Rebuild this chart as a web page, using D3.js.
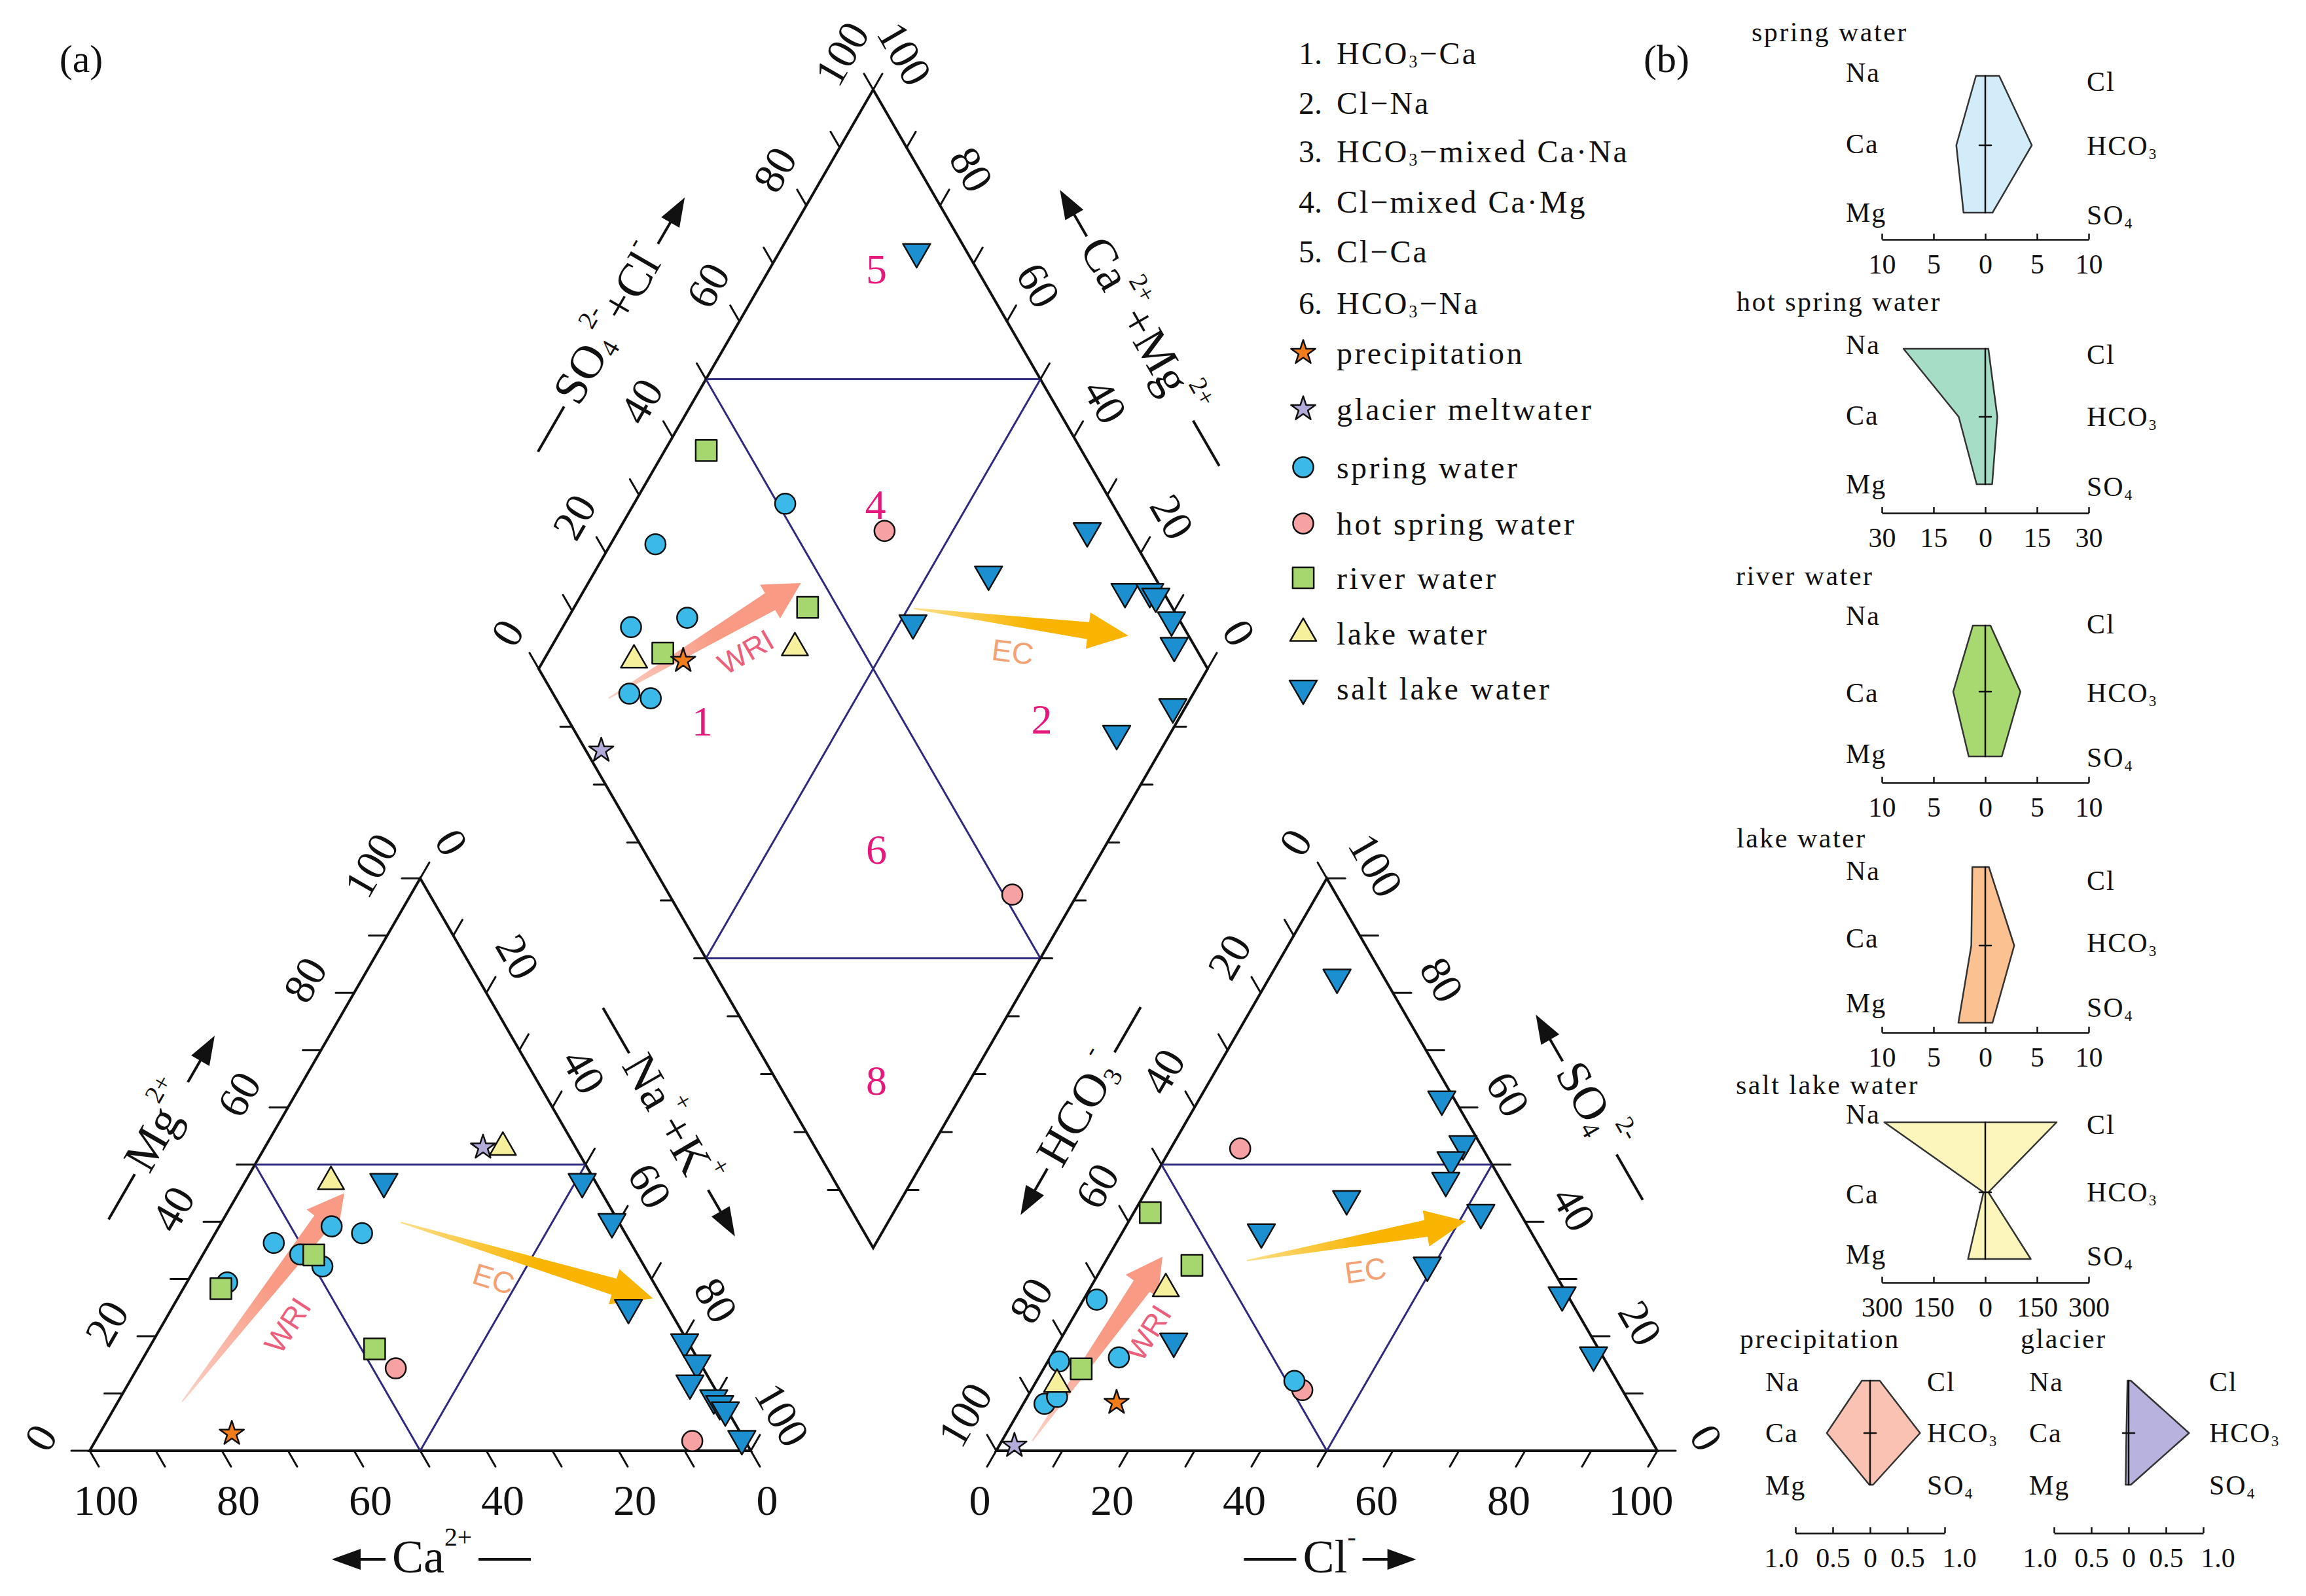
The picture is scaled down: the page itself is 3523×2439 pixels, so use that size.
<!DOCTYPE html>
<html>
<head>
<meta charset="utf-8">
<script src="https://cdn.jsdelivr.net/npm/d3@7"></script>
<style>
body { margin: 0; background: #fff; }
svg { display: block; }
text { font-family: "Liberation Serif", "Times New Roman", serif; fill: #111; }
</style>
</head>
<body>
<svg id="chart" width="3523" height="2439"></svg>
<script>
// ---- data ----
// cation triangle: [type, Ca %, Mg %]
var cationPts = [
    ['precip', 77, 3], ['glacier', 14, 53],
    ['lake', 11, 53], ['lake', 40, 47],
    ['salt', 32, 47], ['salt', 2, 47], ['salt', 1, 40], ['salt', 6, 25], ['salt', 0.5, 19],
    ['salt', 0.5, 15.3], ['salt', 3.3, 11.8], ['salt', 1, 9.2], ['salt', 0.6, 8.2], ['salt', 0.3, 7.1], ['salt', 0.3, 2.1],
    ['hot', 8, 1.7], ['hot', 46.5, 14.4],
    ['spring', 64.5, 29.4], ['spring', 54, 36.3], ['spring', 51, 34.3], ['spring', 48.7, 32.2], ['spring', 43.8, 39.2], ['spring', 39.8, 38],
    ['river', 48, 17.8], ['river', 66, 28.3], ['river', 49, 34.2]
];
// anion triangle: [type, Cl %, SO4 %]
var anionPts = [
    ['glacier', 2.3, 0.9], ['precip', 14, 8.4],
    ['spring', 3.2, 8.2], ['spring', 4.5, 9.4], ['spring', 1.7, 15.6], ['spring', 10.4, 16.3], ['spring', 2, 26.4], ['spring', 39, 12.2],
    ['hot', 41, 10.6], ['hot', 10.5, 52.8],
    ['lake', 3.4, 11.6], ['lake', 11.5, 28.3],
    ['river', 5.7, 14.3], ['river', 13.4, 32.4], ['river', 2.5, 41.6],
    ['salt', 17.3, 19.1], ['salt', 21, 38.2], ['salt', 31, 44], ['salt', 36.7, 61.4], ['salt', 43.8, 53.6], ['salt', 43.4, 50.8],
    ['salt', 44.4, 47.2], ['salt', 52.5, 41.6], ['salt', 49, 32.4], ['salt', 72, 27.2], ['salt', 82, 16.7], ['salt', 10.2, 82.7]
];
// diamond: [type, SO4+Cl %, Ca+Mg %]
var diamondPts = [
    ['salt', 92.5, 79.5], ['salt', 93.9, 29.9], ['salt', 75.4, 40.9], ['salt', 94.3, 19], ['salt', 98, 15.3], ['salt', 98.5, 14],
    ['salt', 98.8, 9.6], ['salt', 97, 7], ['salt', 91.5, 1.9], ['salt', 80.8, 8], ['salt', 59.9, 48],
    ['river', 43.9, 93.8], ['river', 45.5, 65.1], ['river', 19.9, 82.8],
    ['spring', 51.1, 77.4], ['spring', 28.2, 93.3], ['spring', 26.6, 82.2], ['spring', 17.4, 89.8], ['spring', 11.4, 84.3], ['spring', 14.2, 80.7],
    ['hot', 63.6, 60.2], ['hot', 51.3, 9.7],
    ['lake', 15, 86.5], ['lake', 40.1, 63.5],
    ['precip', 22.3, 79.1], ['glacier', 2.3, 83.6]
];
// trend arrows [label, start, tip]
var cationArrows = [['WRI', [81.7, 8.6], [39, 45]], ['EC', [33, 39.9], [1.5, 26.6]]];
var anionArrows = [['WRI', [4.6, 1.7], [8.2, 33.9]], ['EC', [21.3, 33.2], [51, 40.1]]];
var diamondArrows = [['WRI', [7.9, 87], [46.6, 68.2]], ['EC', [61.3, 49.1], [91, 14.7]]];
var regionLabels = [['5', 85, 84], ['4', 64.5, 63.8], ['1', 19.9, 71], ['2', 70.8, 20.4], ['6', 34.9, 33.9], ['8', 14.95, 13.95]];

// Stiff diagrams (meq/L)
var stiffNames = ['spring water', 'hot spring water', 'river water', 'lake water', 'salt lake water', 'precipitation', 'glacier'];
var stiffNa = [0.9, 23.7, 1.2, 1.25, 293, 0.11, 0.015];
var stiffCa = [2.8, 7.7, 3.1, 1.35, 5, 0.58, 0.03];
var stiffMg = [2.1, 2.5, 1.6, 2.6, 50, 0.01, 0.04];
var stiffCl = [1.35, 0.9, 0.5, 0.35, 207, 0.13, 0.03];
var stiffHCO3 = [4.5, 3.5, 3.4, 2.8, 9, 0.67, 0.81];
var stiffSO4 = [0.7, 2.0, 1.6, 0.7, 132, 0.04, 0.03];
var stiffMax = [10, 30, 10, 10, 300, 1, 1];

var typeNames = [
    ['HCO', {sub: '3'}, '−Ca'], ['Cl−Na'], ['HCO', {sub: '3'}, '−mixed Ca·Na'],
    ['Cl−mixed Ca·Mg'], ['Cl−Ca'], ['HCO', {sub: '3'}, '−Na']
];
var seriesKeys = ['precip', 'glacier', 'spring', 'hot', 'river', 'lake', 'salt'];
var seriesNames = ['precipitation', 'glacier meltwater', 'spring water', 'hot spring water', 'river water', 'lake water', 'salt lake water'];

// ---- styles ----
var markStyle = {
    spring: {fill: '#3bb9e9', sym: d3.symbolCircle, size: 760},
    hot: {fill: '#f6a1a2', sym: d3.symbolCircle, size: 760},
    river: {fill: '#a6d76e', sym: d3.symbolSquare, size: 1040},
    lake: {fill: '#f6ef9c', sym: d3.symbolTriangle, size: 700},
    salt: {fill: '#1b8fd0', sym: d3.symbolTriangle, size: 760, rot: 180},
    precip: {fill: '#f07c1c', sym: d3.symbolStar, size: 430},
    glacier: {fill: '#b3abd9', sym: d3.symbolStar, size: 430}
};
var stiffFill = ['#d3ecfa', '#a6ddc6', '#a8d870', '#fbc190', '#fdf6bc', '#fac2b2', '#b8b3de'];
var drawOrder = ['hot', 'spring', 'river', 'lake', 'salt', 'precip', 'glacier'];
var purple = '#2e2a7e';

var svg = d3.select('#chart');
svg.append('rect').attr('width', 3523).attr('height', 2439).attr('fill', '#fff');
var defs = svg.append('defs');

// ---- geometry ----
var side = 1010, triH = side * Math.sqrt(3) / 2, baseY = 2217;
var triY = d3.scaleLinear().domain([0, 100]).range([baseY, baseY - triH]);
var catX = d3.scaleLinear().domain([0, 100]).range([137 + side, 137]);   // Ca + Mg/2
var anX = d3.scaleLinear().domain([0, 100]).range([1522, 1522 + side]);  // Cl + SO4/2
function catPos(ca, mg) { return [catX(ca + mg / 2), triY(mg)]; }
function anPos(cl, so4) { return [anX(cl + so4 / 2), triY(so4)]; }
var dX = d3.scaleLinear().domain([-100, 100]).range([823, 1845]);
var dY = d3.scaleLinear().domain([0, 200]).range([1907, 137]);
function diaPos(a, c) { return [dX(a - c), dY(a + c)]; }

function seg(a, b, color, w) {
    svg.append('line')
        .attr('x1', a[0]).attr('y1', a[1]).attr('x2', b[0]).attr('y2', b[1])
        .attr('stroke', color).attr('stroke-width', w).attr('stroke-linecap', 'round');
}

function richText(t, parts, fs) {
    var cur = 0;
    parts.forEach(function(p) {
        var tgt = 0, txt = p, size = null;
        if (typeof p !== 'string') {
            if (p.sub) { tgt = fs * 0.28; txt = p.sub; }
            else { tgt = -fs * 0.42; txt = p.sup; }
            size = fs * 0.55;
        }
        var ts = t.append('tspan').attr('dy', tgt - cur).text(txt);
        if (size) ts.style('font-size', size + 'px');
        cur = tgt;
    });
}

function ticks(values, posFn, dir, len, labelFn, off, rot) {
    values.forEach(function(v) {
        var p = posFn(v);
        seg(p, [p[0] + dir[0] * len, p[1] + dir[1] * len], '#111', 3);
        if (labelFn && v % 20 === 0) {
            svg.append('text')
                .attr('transform', 'translate(' + (p[0] + off[0]) + ',' + (p[1] + off[1]) + ') rotate(' + rot + ')')
                .attr('text-anchor', 'middle').attr('dominant-baseline', 'central')
                .style('font-size', '66px')
                .text(labelFn(v));
        }
    });
}

var all = d3.range(0, 101, 10), inner = d3.range(10, 91, 10);
var c60 = 0.866;

// outlines
var polys = [
    [catPos(100, 0), catPos(0, 100), catPos(0, 0)],
    [anPos(0, 0), anPos(0, 100), anPos(100, 0)],
    [diaPos(0, 100), diaPos(100, 100), diaPos(100, 0), diaPos(0, 0)]
];
polys.forEach(function(p) {
    svg.append('path').attr('d', 'M' + p.join('L') + 'Z')
        .attr('fill', 'none').attr('stroke', '#111').attr('stroke-width', 4).attr('stroke-linejoin', 'miter');
});

// inner purple lines
[
    [catPos(50, 50), catPos(0, 50)], [catPos(50, 50), catPos(50, 0)], [catPos(0, 50), catPos(50, 0)],
    [anPos(0, 50), anPos(50, 50)], [anPos(0, 50), anPos(50, 0)], [anPos(50, 50), anPos(50, 0)],
    [diaPos(50, 100), diaPos(100, 50)], [diaPos(0, 50), diaPos(50, 0)],
    [diaPos(50, 100), diaPos(50, 0)], [diaPos(100, 50), diaPos(0, 50)]
].forEach(function(s) { seg(s[0], s[1], purple, 3); });

// ticks and tick labels
var id = function(v) { return v; };
ticks(all, function(v) { return catPos(v, 0); }, [0.5, c60], 28, id, [25, 75], 0);
ticks(all, function(v) { return catPos(100 - v, v); }, [-1, 0], 28, id, [-75, -20], -60);
ticks(all, function(v) { return catPos(0, 100 - v); }, [0.5, -c60], 28, id, [48, -55], 60);
ticks(all, function(v) { return anPos(v, 0); }, [-0.5, c60], 28, id, [-25, 75], 0);
ticks(all, function(v) { return anPos(0, v); }, [-0.5, -c60], 28, function(v) { return 100 - v; }, [-48, -55], -60);
ticks(all, function(v) { return anPos(100 - v, v); }, [1, 0], 28, id, [75, -20], 60);
ticks(all, function(v) { return diaPos(v, 100); }, [-0.5, -c60], 28, id, [-48, -55], -60);
ticks(all, function(v) { return diaPos(100, v); }, [0.5, -c60], 28, id, [48, -55], 60);
ticks(inner, function(v) { return diaPos(0, v); }, [-1, 0], 18, null);
ticks(inner, function(v) { return diaPos(v, 0); }, [1, 0], 18, null);

// axis titles: text centred at (cx,cy), with a dash or an arrow on either side
function axisTitle(cx, cy, angle, parts, pre, post) {
    var g = svg.append('g').attr('transform', 'translate(' + cx + ',' + cy + ') rotate(' + angle + ')');
    var t = g.append('text').attr('text-anchor', 'middle').attr('dominant-baseline', 'central')
        .style('font-size', '72px');
    richText(t, parts, 72);
    var hw = t.node().getComputedTextLength() / 2 + 10;
    function piece(kind, sgn) {
        if (kind === 'line') {
            g.append('line').attr('x1', sgn * hw).attr('x2', sgn * (hw + 80)).attr('y1', 4).attr('y2', 4)
                .attr('stroke', '#111').attr('stroke-width', 4);
        } else {
            g.append('line').attr('x1', sgn * hw).attr('x2', sgn * (hw + 45)).attr('y1', 4).attr('y2', 4)
                .attr('stroke', '#111').attr('stroke-width', 4);
            var x0 = sgn * (hw + 38), x1 = sgn * (hw + 82);
            g.append('path').attr('d', 'M' + x0 + ',' + (4 - 16) + 'L' + x1 + ',4L' + x0 + ',' + (4 + 16) + 'Z')
                .attr('fill', '#111');
        }
    }
    piece(pre, -1);
    piece(post, 1);
}
axisTitle(243, 1722, -60, ['Mg', {sup: '2+'}], 'line', 'arrow');
axisTitle(1025, 1712, 60, ['Na', {sup: '+'}, '+K', {sup: '+'}], 'line', 'arrow');
axisTitle(660, 2379, 0, ['Ca', {sup: '2+'}], 'arrow', 'line');
axisTitle(930, 495, -60, ['SO', {sub: '4'}, {sup: '2-'}, '+Cl', {sup: '-'}], 'line', 'arrow');
axisTitle(1745, 500, 60, ['Ca', {sup: '2+'}, '+Mg', {sup: '2+'}], 'arrow', 'line');
axisTitle(1648, 1695, -60, ['HCO', {sub: '3'}, {sup: '-'}], 'arrow', 'line');
axisTitle(2432, 1691, 60, ['SO', {sub: '4'}, {sup: '2-'}], 'arrow', 'line');
axisTitle(2031, 2379, 0, ['Cl', {sup: '-'}], 'line', 'arrow');

// region numbers
regionLabels.forEach(function(r) {
    var p = diaPos(r[1], r[2]);
    svg.append('text').attr('x', p[0]).attr('y', p[1])
        .attr('text-anchor', 'middle').attr('dominant-baseline', 'central')
        .style('font-size', '64px').style('fill', '#e6187c').text(r[0]);
});

// trend arrows
var arrowCols = {WRI: ['#fbd3c8', '#f89a84'], EC: ['#fde08a', '#f8b400']};
var gradN = 0;
function trendArrow(a, posFn, textPos, textRot) {
    var p0 = posFn(a[1][0], a[1][1]), p1 = posFn(a[2][0], a[2][1]);
    var dx = p1[0] - p0[0], dy = p1[1] - p0[1], L = Math.hypot(dx, dy);
    var ux = dx / L, uy = dy / L, nx = -uy, ny = ux;
    var wS = a[0] === 'WRI' ? 30 : 26, wH = a[0] === 'WRI' ? 60 : 56, lH = a[0] === 'WRI' ? 55 : 62;
    var hb = [p1[0] - ux * lH, p1[1] - uy * lH];
    var pts = [
        [p0[0] + nx, p0[1] + ny], [hb[0] + nx * wS / 2, hb[1] + ny * wS / 2], [hb[0] + nx * wH / 2, hb[1] + ny * wH / 2],
        p1, [hb[0] - nx * wH / 2, hb[1] - ny * wH / 2], [hb[0] - nx * wS / 2, hb[1] - ny * wS / 2], [p0[0] - nx, p0[1] - ny]
    ];
    var gid = 'ag' + (gradN++);
    var gr = defs.append('linearGradient').attr('id', gid).attr('gradientUnits', 'userSpaceOnUse')
        .attr('x1', p0[0]).attr('y1', p0[1]).attr('x2', p1[0]).attr('y2', p1[1]);
    gr.append('stop').attr('offset', 0).attr('stop-color', arrowCols[a[0]][0]);
    gr.append('stop').attr('offset', 0.55).attr('stop-color', arrowCols[a[0]][1]);
    gr.append('stop').attr('offset', 1).attr('stop-color', arrowCols[a[0]][1]);
    svg.append('path').attr('d', 'M' + pts.join('L') + 'Z').attr('fill', 'url(#' + gid + ')');
    var tp = posFn(textPos[0], textPos[1]);
    svg.append('text').attr('transform', 'translate(' + tp[0] + ',' + tp[1] + ') rotate(' + textRot + ')')
        .attr('text-anchor', 'middle').attr('dominant-baseline', 'central')
        .style('font-family', '"Liberation Sans", Arial, sans-serif').style('font-size', '46px')
        .style('fill', a[0] === 'WRI' ? '#ec5f7c' : '#f4a274').text(a[0]);
}
trendArrow(cationArrows[0], catPos, [59.1, 21.9], -57);
trendArrow(cationArrows[1], catPos, [23.9, 30], 17);
trendArrow(anionArrows[0], anPos, [12.7, 20.6], -58);
trendArrow(anionArrows[1], anPos, [40.1, 31.5], -8);
trendArrow(diamondArrows[0], diaPos, [32.4, 70.5], -30);
trendArrow(diamondArrows[1], diaPos, [72.3, 30.6], 7);

// sample points
function marker(type, x, y) {
    var st = markStyle[type];
    svg.append('path').attr('d', d3.symbol().type(st.sym).size(st.size)())
        .attr('transform', 'translate(' + x + ',' + y + ')' + (st.rot ? ' rotate(' + st.rot + ')' : ''))
        .attr('fill', st.fill).attr('stroke', '#111').attr('stroke-width', 2.5).attr('stroke-linejoin', 'round');
}
function drawPts(list, posFn) {
    drawOrder.forEach(function(t) {
        list.filter(function(d) { return d[0] === t; }).forEach(function(d) {
            var p = posFn(d[1], d[2]);
            marker(t, p[0], p[1]);
        });
    });
}
drawPts(cationPts, catPos);
drawPts(anionPts, anPos);
drawPts(diamondPts, diaPos);

// panel letters
svg.append('text').attr('x', 124).attr('y', 90).attr('text-anchor', 'middle').attr('dominant-baseline', 'central')
    .style('font-size', '60px').text('(a)');
svg.append('text').attr('x', 2546).attr('y', 90).attr('text-anchor', 'middle').attr('dominant-baseline', 'central')
    .style('font-size', '60px').text('(b)');

// legend
var legY = [81, 157, 231, 308, 384, 463, 539, 625, 714, 800, 883, 968, 1052];
typeNames.forEach(function(parts, i) {
    svg.append('text').attr('x', 1984).attr('y', legY[i]).attr('dominant-baseline', 'central')
        .style('font-size', '48px').text((i + 1) + '.');
    var t = svg.append('text').attr('x', 2042).attr('y', legY[i]).attr('dominant-baseline', 'central')
        .style('font-size', '48px').style('letter-spacing', '3px');
    richText(t, parts, 48);
});
seriesKeys.forEach(function(k, i) {
    var y = legY[i + 6];
    marker(k, 1991, y);
    svg.append('text').attr('x', 2042).attr('y', y).attr('dominant-baseline', 'central')
        .style('font-size', '48px').style('letter-spacing', '3.4px').text(seriesNames[i]);
});

// Stiff diagrams
var stiffLayout = [
    {x0: 2875, x1: 3191, lx: 2820, rx: 3188, tx: 2676, ty: 49, rows: [116, 222, 325], ax: 366,
     ly: [111, 220, 325], ry: [125, 223, 329]},
    {x0: 2875, x1: 3191, lx: 2820, rx: 3188, tx: 2653, ty: 461, rows: [533, 637, 740], ax: 784,
     ly: [527, 635, 740], ry: [542, 637, 744]},
    {x0: 2875, x1: 3191, lx: 2820, rx: 3188, tx: 2652, ty: 880, rows: [956, 1057, 1156], ax: 1196,
     ly: [941, 1059, 1152], ry: [954, 1059, 1158]},
    {x0: 2875, x1: 3191, lx: 2820, rx: 3188, tx: 2653, ty: 1281, rows: [1325, 1445, 1563], ax: 1578,
     ly: [1331, 1434, 1533], ry: [1346, 1441, 1540]},
    {x0: 2875, x1: 3191, lx: 2820, rx: 3188, tx: 2652, ty: 1658, rows: [1715, 1822, 1924], ax: 1960,
     ly: [1703, 1825, 1917], ry: [1719, 1822, 1920]},
    {x0: 2743, x1: 2971, lx: 2697, rx: 2944, tx: 2658, ty: 2046, rows: [2110, 2190, 2269], ax: 2343,
     ly: [2112, 2190, 2270], ry: [2112, 2190, 2270]},
    {x0: 3138, x1: 3366, lx: 3100, rx: 3375, tx: 3087, ty: 2046, rows: [2110, 2190, 2269], ax: 2343,
     ly: [2112, 2190, 2270], ry: [2112, 2190, 2270]}
];
var catLab = [['Na'], ['Ca'], ['Mg']];
var anLab = [['Cl'], ['HCO', {sub: '3'}], ['SO', {sub: '4'}]];
stiffNames.forEach(function(name, i) {
    var L = stiffLayout[i], m = stiffMax[i], r = L.rows;
    var sx = d3.scaleLinear().domain([-m, m]).range([L.x0, L.x1]);
    var poly = [
        [sx(-stiffNa[i]), r[0]], [sx(-stiffCa[i]), r[1]], [sx(-stiffMg[i]), r[2]],
        [sx(stiffSO4[i]), r[2]], [sx(stiffHCO3[i]), r[1]], [sx(stiffCl[i]), r[0]]
    ];
    svg.append('path').attr('d', 'M' + poly.join('L') + 'Z')
        .attr('fill', stiffFill[i]).attr('stroke', '#333').attr('stroke-width', 2.5).attr('stroke-linejoin', 'round');
    seg([sx(0), r[0]], [sx(0), r[2]], '#111', 2.5);
    seg([sx(0) - 9, r[1]], [sx(0) + 9, r[1]], '#111', 2.5);

    svg.append('text').attr('x', L.tx).attr('y', L.ty).attr('dominant-baseline', 'central')
        .style('font-size', '42px').style('letter-spacing', '2.5px').text(name);
    [0, 1, 2].forEach(function(k) {
        var t1 = svg.append('text').attr('x', L.lx).attr('y', L.ly[k]).attr('dominant-baseline', 'central')
            .style('font-size', '42px').style('letter-spacing', '2px');
        richText(t1, catLab[k], 42);
        var t2 = svg.append('text').attr('x', L.rx).attr('y', L.ry[k]).attr('dominant-baseline', 'central')
            .style('font-size', '42px').style('letter-spacing', '2px');
        richText(t2, anLab[k], 42);
    });

    var fmt = m === 1 ? d3.format('.1f') : function(v) { return v; };
    var ax = svg.append('g').attr('transform', 'translate(0,' + L.ax + ')')
        .call(d3.axisBottom(sx)
            .tickValues([-m, -m / 2, 0, m / 2, m])
            .tickSizeInner(-9).tickSizeOuter(0).tickPadding(22)
            .tickFormat(function(v) { return v === 0 ? '0' : fmt(Math.abs(v)); }));
    ax.select('.domain').attr('stroke', '#111').attr('stroke-width', 2.5);
    ax.selectAll('.tick line').attr('stroke', '#111').attr('stroke-width', 2.5);
    ax.selectAll('.tick text').attr('font-family', null).style('font-size', '42px').style('fill', '#111')
        .attr('dx', function(v) {
            // end labels of the narrow axes sit a little outside their ticks
            if (m === 1 && Math.abs(v) === m) return v < 0 ? -22 : 22;
            return 0;
        });
});
</script>
</body>
</html>
